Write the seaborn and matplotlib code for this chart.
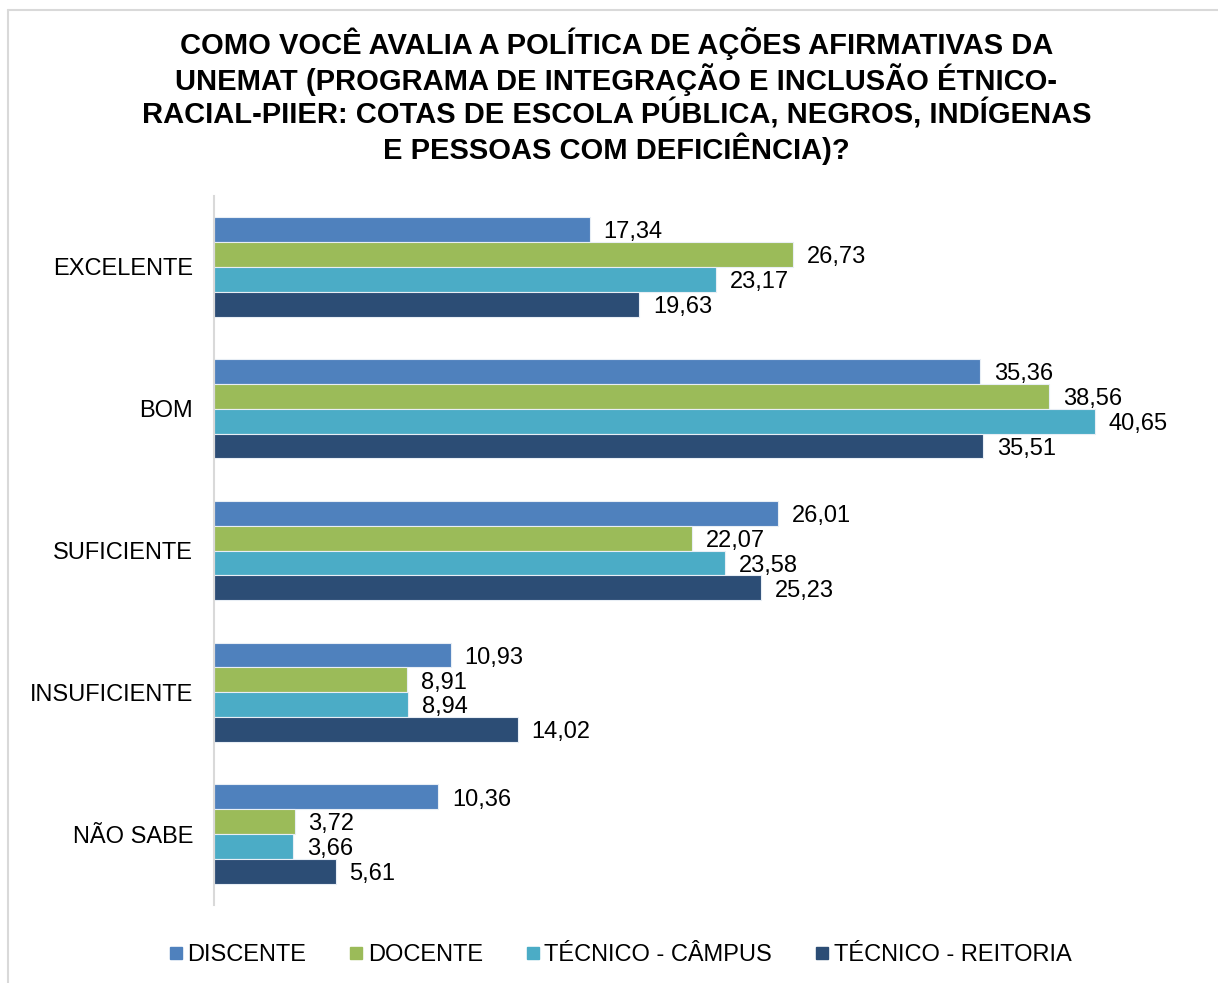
import matplotlib.pyplot as plt
import pandas as pd
import seaborn as sns
from matplotlib.lines import Line2D

categories = ["EXCELENTE", "BOM", "SUFICIENTE", "INSUFICIENTE", "NÃO SABE"]
groups = ["DISCENTE", "DOCENTE", "TÉCNICO - CÂMPUS", "TÉCNICO - REITORIA"]
discente = [17.34, 35.36, 26.01, 10.93, 10.36]
docente = [26.73, 38.56, 22.07, 8.91, 3.72]
tecnico_campus = [23.17, 40.65, 23.58, 8.94, 3.66]
tecnico_reitoria = [19.63, 35.51, 25.23, 14.02, 5.61]
colors = ["#4F81BD", "#9BBB59", "#4BACC6", "#2C4D75"]

title = ("COMO VOCÊ AVALIA A POLÍTICA DE AÇÕES AFIRMATIVAS DA\n"
         "UNEMAT (PROGRAMA DE INTEGRAÇÃO E INCLUSÃO ÉTNICO-\n"
         "RACIAL-PIIER: COTAS DE ESCOLA PÚBLICA, NEGROS, INDÍGENAS\n"
         "E PESSOAS COM DEFICIÊNCIA)?")

rows = []
for g, vals in zip(groups, [discente, docente, tecnico_campus, tecnico_reitoria]):
    for c, v in zip(categories, vals):
        rows.append({"categoria": c, "grupo": g, "valor": v})
df = pd.DataFrame(rows)

sns.set_style("white")
plt.rcParams["font.family"] = ["Liberation Sans", "DejaVu Sans"]
plt.rcParams["text.color"] = "black"
plt.rcParams["ytick.color"] = "black"

fig = plt.figure(figsize=(12.18, 9.83), dpi=100)
ax = fig.add_axes([214 / 1218, 1 - 905 / 983, (1189 - 214) / 1218, (905 - 196) / 983])

sns.barplot(data=df, y="categoria", x="valor", hue="grupo", order=categories,
            hue_order=groups, palette=colors, saturation=1, orient="h", width=0.7,
            edgecolor="#E8EEF5", linewidth=0.8, ax=ax, legend=False)

for cont in ax.containers:
    texts = ax.bar_label(cont, labels=[f"{b.get_width():.2f}".replace(".", ",") for b in cont],
                         padding=10, fontsize=17, color="black")
    # nudge labels slightly down, as in the original
    for t in texts:
        t.xyann = (10, -2)

ax.set_xlim(0, 45)
ax.set_xlabel("")
ax.set_ylabel("")
ax.set_xticks([])
ax.tick_params(axis="y", length=0, pad=15, labelsize=17)
for s in ["top", "right", "bottom"]:
    ax.spines[s].set_visible(False)
ax.spines["left"].set_color("#D9D9D9")
ax.spines["left"].set_linewidth(1.5)

fig.text(0.506, 1 - 96 / 983, title, ha="center", va="center", fontsize=21,
         fontweight="bold", linespacing=1.1)

handles = [Line2D([0], [0], marker="s", linestyle="", markersize=9,
                  markerfacecolor=c, markeredgecolor=c) for c in colors]
fig.legend(handles, groups, loc="center", bbox_to_anchor=(0.508, 1 - 955 / 983),
           ncol=4, frameon=False, fontsize=17, handlelength=0.8,
           handletextpad=0.1, columnspacing=1.7)

# light frame around the chart
fig.add_artist(Line2D([8 / 1218, 8 / 1218], [0, 1 - 10 / 983], color="#D9D9D9", lw=1.5))
fig.add_artist(Line2D([8 / 1218, 1], [1 - 10 / 983, 1 - 10 / 983], color="#D9D9D9", lw=1.5))

fig.savefig("out.png", dpi=100)
